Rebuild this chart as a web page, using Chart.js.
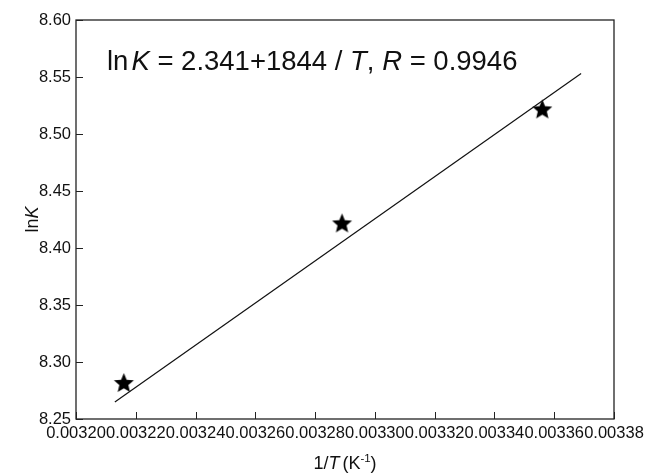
<!DOCTYPE html>
<html>
<head>
<meta charset="utf-8">
<script src="https://cdn.jsdelivr.net/npm/chart.js@4.4.1/dist/chart.umd.min.js"></script>
<style>
  html, body { margin:0; padding:0; background:#fff; }
</style>
</head>
<body>
<canvas id="chart" width="645" height="476"></canvas>
<script>
// ── Data ─────────────────────────────────────────────────────────
const invT  = [0.003216, 0.003289, 0.003356];   // 1/T (K^-1)
const lnK   = [8.282, 8.422, 8.522];
const fitX  = [0.003213, 0.003369];              // fitted line ends
const fitY  = [8.265, 8.553];
const xTickVals   = [0.00320,0.00322,0.00324,0.00326,0.00328,0.00330,0.00332,0.00334,0.00336,0.00338];
const xTickLabels = ['0.00320','0.00322','0.00324','0.00326','0.00328','0.00330','0.00332','0.00334','0.00336','0.00338'];
const yTickVals   = [8.25,8.30,8.35,8.40,8.45,8.50,8.55,8.60];
const yTickLabels = ['8.25','8.30','8.35','8.40','8.45','8.50','8.55','8.60'];

const FONT = "'Liberation Sans', Arial, Helvetica, sans-serif";

// ── Filled five-point star marker ────────────────────────────────
function makeStar(r) {
  const s = Math.ceil(r * 2 + 2);
  const c = document.createElement('canvas');
  c.width = c.height = s;
  const g = c.getContext('2d');
  g.translate(s / 2, s / 2 + r * 0.1);
  g.beginPath();
  for (let i = 0; i < 10; i++) {
    const rad = i % 2 ? r * 0.45 : r;
    const a = -Math.PI / 2 + i * Math.PI / 5;
    g.lineTo(rad * Math.cos(a), rad * Math.sin(a));
  }
  g.closePath();
  g.fillStyle = '#000';
  g.fill();
  return c;
}

// ── Mixed-style text helper (italic / superscript runs) ─────────
function drawRuns(ctx, runs, x, y, align) {
  const fontOf = r => `${r.italic ? 'italic ' : ''}${r.size}px ${FONT}`;
  let total = 0;
  runs.forEach(r => { ctx.font = fontOf(r); total += ctx.measureText(r.t).width + (r.gap || 0); });
  let cx = align === 'center' ? x - total / 2 : x;
  ctx.textBaseline = 'alphabetic';
  ctx.textAlign = 'left';
  runs.forEach(r => {
    ctx.font = fontOf(r);
    ctx.fillText(r.t, cx, y + (r.dy || 0));
    cx += ctx.measureText(r.t).width + (r.gap || 0);
  });
}

const decorations = {
  id: 'decorations',
  afterDraw(chart) {
    const { ctx, chartArea: a, scales: { x, y } } = chart;
    ctx.save();
    // frame
    ctx.strokeStyle = '#222';
    ctx.lineWidth = 1.3;
    ctx.strokeRect(a.left, a.top, a.right - a.left, a.bottom - a.top);
    // inward ticks
    ctx.beginPath();
    x.ticks.forEach(t => {
      const px = Math.round(x.getPixelForValue(t.value)) + 0.5;
      ctx.moveTo(px, a.bottom); ctx.lineTo(px, a.bottom - 7);
    });
    y.ticks.forEach(t => {
      const py = Math.round(y.getPixelForValue(t.value)) + 0.5;
      ctx.moveTo(a.left, py); ctx.lineTo(a.left + 7, py);
    });
    ctx.lineWidth = 1;
    ctx.stroke();

    ctx.fillStyle = '#111';
    // equation
    drawRuns(ctx, [
      { t: 'ln', size: 27.5, gap: 3 },
      { t: 'K', size: 27.5, italic: true },
      { t: ' = 2.341+1844 / ', size: 27.5 },
      { t: 'T', size: 27.5, italic: true },
      { t: ', ', size: 27.5 },
      { t: 'R', size: 27.5, italic: true },
      { t: ' = 0.9946', size: 27.5 }
    ], 107, 70, 'left');

    // x title
    drawRuns(ctx, [
      { t: '1/', size: 18 },
      { t: 'T', size: 18, italic: true, gap: 3 },
      { t: '(K', size: 18 },
      { t: '-1', size: 11.5, dy: -7.5 },
      { t: ')', size: 18 }
    ], (a.left + a.right) / 2, 469, 'center');

    // y title
    ctx.translate(38, (a.top + a.bottom) / 2);
    ctx.rotate(-Math.PI / 2);
    drawRuns(ctx, [
      { t: 'ln', size: 18 },
      { t: 'K', size: 18, italic: true }
    ], 0, 0, 'center');
    ctx.restore();
  }
};

new Chart(document.getElementById('chart'), {
  type: 'scatter',
  data: {
    datasets: [
      {
        type: 'line',
        data: fitX.map((v, i) => ({ x: v, y: fitY[i] })),
        borderColor: '#111',
        borderWidth: 1.2,
        pointRadius: 0,
        fill: false
      },
      {
        data: invT.map((v, i) => ({ x: v, y: lnK[i] })),
        pointStyle: makeStar(10.5),
        pointRadius: 10,
        borderWidth: 0
      }
    ]
  },
  options: {
    responsive: false,
    animation: false,
    devicePixelRatio: 1,
    layout: { padding: { left: 0, top: 20, right: 31, bottom: 0 } },
    plugins: { legend: { display: false }, tooltip: { enabled: false } },
    scales: {
      x: {
        type: 'linear', min: 0.00320, max: 0.00338,
        grid: { display: false, drawTicks: false },
        border: { display: false },
        afterBuildTicks: s => { s.ticks = xTickVals.map(v => ({ value: v })); },
        ticks: {
          color: '#111', padding: 5, maxRotation: 0, autoSkip: false,
          font: { size: 16.5, family: FONT },
          callback: (v, i) => xTickLabels[i]
        },
        afterFit: s => { s.height = 57; s.paddingLeft = 0; s.paddingRight = 0; }
      },
      y: {
        type: 'linear', min: 8.25, max: 8.60,
        grid: { display: false, drawTicks: false },
        border: { display: false },
        afterBuildTicks: s => { s.ticks = yTickVals.map(v => ({ value: v })); },
        ticks: {
          color: '#111', padding: 5,
          font: { size: 16.5, family: FONT },
          callback: (v, i) => yTickLabels[i]
        },
        afterFit: s => { s.width = 76; s.paddingTop = 0; s.paddingBottom = 0; }
      }
    }
  },
  plugins: [decorations]
});
</script>
</body>
</html>
